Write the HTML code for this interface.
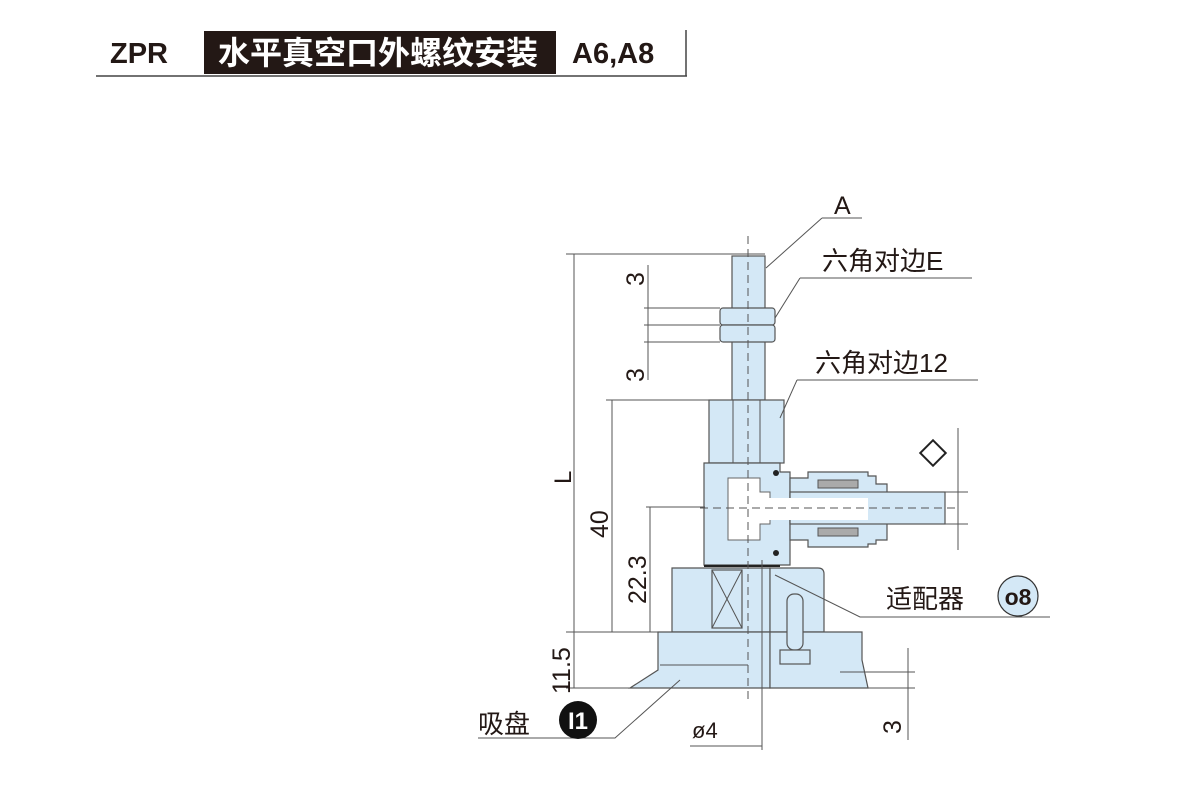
<!DOCTYPE html>
<html><head><meta charset="utf-8"><style>
html,body{margin:0;padding:0;background:#fff;}
svg{display:block;}
text{font-family:"Liberation Sans","Noto Sans CJK SC",sans-serif;}
</style></head><body>
<svg width="1200" height="800" viewBox="0 0 1200 800" xmlns="http://www.w3.org/2000/svg">
<rect x="204" y="31" width="352" height="43" fill="#231815"/>
<line x1="96" y1="76" x2="687" y2="76" stroke="#444" stroke-width="1.5"/>
<line x1="686" y1="30" x2="686" y2="76" stroke="#444" stroke-width="1.5"/>
<text x="110" y="63" font-size="29" font-weight="bold" fill="#231815">ZPR</text>
<text x="218" y="64" font-size="32" font-weight="bold" fill="#fff" font-family="'Noto Sans CJK SC',sans-serif">水平真空口外螺纹安装</text>
<text x="572" y="63" font-size="29" font-weight="bold" fill="#231815">A6,A8</text>

<g stroke="#555" stroke-width="1.2" fill="#d4e8f6">
<rect x="732" y="256" width="33" height="144"/>
<rect x="720" y="308" width="55" height="17" rx="3"/>
<rect x="720" y="325" width="55" height="17" rx="3"/>
<rect x="709" y="400" width="75" height="63"/>
<path d="M704 463 H780 V472 H790 V565 H704 Z"/>
<path d="M790 478 H808 V472 H868 V476 H876 V484 H887 V540 H876 V544 H868 V547 H808 V540 H790 Z"/>
<rect x="790" y="492" width="155" height="32"/>
<path d="M672 568 H770 V632 H672 V574 Z"/>
<rect x="712" y="570" width="30" height="58" fill="none"/>
<path d="M770 568 H818 Q824 568 824 574 V632 H770 Z"/>
<path d="M658 632 H770 V688 H630 L658 670 Z"/>
<path d="M770 632 H862 V660 L868 688 H770 Z"/>
<rect x="787" y="594" width="16" height="56" rx="7"/>
<rect x="780" y="650" width="30" height="14"/>
</g>
<g stroke="#555" stroke-width="1" fill="none">
<path d="M728 478 H760 V492 H770 V524 H760 V540 H728 Z" fill="#fff" stroke="#666"/>
<rect x="748" y="498" width="120" height="22" fill="#fff" stroke="none"/>
<line x1="712" y1="570" x2="742" y2="628"/><line x1="742" y1="570" x2="712" y2="628"/>
<line x1="733" y1="400" x2="733" y2="463"/><line x1="760" y1="400" x2="760" y2="463"/>
<line x1="660" y1="665" x2="748" y2="665"/>
<line x1="704" y1="566" x2="780" y2="566" stroke="#222" stroke-width="2"/>
<rect x="818" y="480" width="40" height="8" fill="#aaa"/>
<rect x="818" y="528" width="40" height="8" fill="#aaa"/>
</g>
<circle cx="776" cy="473" r="3" fill="#222"/>
<circle cx="776" cy="553" r="3" fill="#222"/>
<line x1="748" y1="236" x2="748" y2="700" stroke="#555" stroke-dasharray="8,5"/>
<line x1="700" y1="508" x2="960" y2="508" stroke="#555" stroke-dasharray="8,5"/>
<line x1="762" y1="560" x2="762" y2="750" stroke="#555"/>

<g stroke="#555" stroke-width="1" fill="none">
<line x1="566" y1="254" x2="765" y2="254"/>
<line x1="574" y1="254" x2="574" y2="688"/>
<line x1="606" y1="400" x2="710" y2="400"/>
<line x1="612" y1="400" x2="612" y2="632"/>
<line x1="646" y1="507" x2="705" y2="507"/>
<line x1="650" y1="507" x2="650" y2="632"/>
<line x1="566" y1="632" x2="672" y2="632"/>
<line x1="566" y1="688" x2="630" y2="688"/>
<line x1="648" y1="265" x2="648" y2="380"/>
<line x1="644" y1="308" x2="720" y2="308"/>
<line x1="644" y1="325" x2="720" y2="325"/>
<line x1="644" y1="342" x2="720" y2="342"/>
<line x1="958" y1="428" x2="958" y2="550"/>
<line x1="945" y1="492" x2="968" y2="492"/>
<line x1="945" y1="524" x2="968" y2="524"/>
<line x1="908" y1="648" x2="908" y2="740"/>
<line x1="840" y1="672" x2="915" y2="672"/>
<line x1="868" y1="688" x2="915" y2="688"/>
<line x1="690" y1="746" x2="762" y2="746"/>
<polyline points="822,218 862,218"/><line x1="822" y1="218" x2="766" y2="268"/>
<polyline points="800,278 972,278"/><line x1="800" y1="278" x2="775" y2="318"/>
<polyline points="797,380 978,380"/><line x1="797" y1="380" x2="780" y2="418"/>
<polyline points="1050,617 860,617 775,575"/>
<polyline points="478,738 615,738 680,680"/>
<rect x="924" y="444" width="18" height="18" transform="rotate(45 933 453)" stroke="#222" stroke-width="2"/>
</g>

<g fill="#231815" font-size="26">
<text x="834" y="214" font-size="25">A</text>
<text x="822" y="270">六角对边E</text>
<text x="815" y="372">六角对边12</text>
<text x="886" y="608">适配器</text>
<text x="478" y="733">吸盘</text>
<text x="692" y="738" font-size="22">ø4</text>
<text transform="translate(571,484) rotate(-90)" font-size="24">L</text>
<text transform="translate(608,538) rotate(-90)" font-size="25">40</text>
<text transform="translate(646,604) rotate(-90)" font-size="25">22.3</text>
<text transform="translate(570,694) rotate(-90)" font-size="25">11.5</text>
<text transform="translate(644,286) rotate(-90)" font-size="25">3</text>
<text transform="translate(644,382) rotate(-90)" font-size="25">3</text>
<text transform="translate(901,734) rotate(-90)" font-size="25">3</text>
</g>
<circle cx="1018" cy="596" r="20" fill="#d4e8f6" stroke="#333" stroke-width="1.2"/>
<text x="1018" y="605" text-anchor="middle" font-size="23" font-weight="bold" fill="#231815">o8</text>
<circle cx="578" cy="720" r="19" fill="#111"/>
<text x="578" y="729" text-anchor="middle" font-size="24" font-weight="bold" fill="#fff">I1</text>
</svg>
</body></html>
